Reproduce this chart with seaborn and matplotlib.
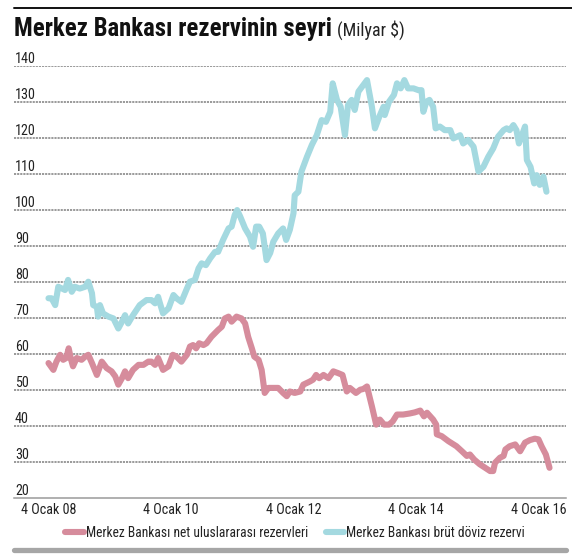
import matplotlib
matplotlib.use('Agg')
import matplotlib.pyplot as plt
import seaborn as sns
import pandas as pd
from matplotlib import font_manager as fm
from matplotlib.lines import Line2D
import matplotlib.transforms as mtrans

# ---------------- data ----------------
brut_years = [2008.00, 2008.05, 2008.11, 2008.16, 2008.22, 2008.27, 2008.32, 2008.38, 2008.43, 2008.51,
              2008.60, 2008.65, 2008.71, 2008.73, 2008.79, 2008.81, 2008.84, 2008.89, 2008.98, 2009.06,
              2009.14, 2009.20, 2009.25, 2009.30, 2009.38, 2009.49, 2009.60, 2009.68, 2009.74, 2009.79,
              2009.82, 2009.87, 2009.96, 2010.04, 2010.09, 2010.17, 2010.26, 2010.31, 2010.39, 2010.45,
              2010.50, 2010.57, 2010.64, 2010.72, 2010.77, 2010.85, 2010.94, 2010.99, 2011.04, 2011.08,
              2011.13, 2011.21, 2011.29, 2011.34, 2011.39, 2011.44, 2011.50, 2011.56, 2011.62, 2011.67,
              2011.75, 2011.83, 2011.88, 2011.94, 2012.00, 2012.02, 2012.08, 2012.13, 2012.22, 2012.30,
              2012.38, 2012.46, 2012.53, 2012.60, 2012.64, 2012.71, 2012.77, 2012.84, 2012.89, 2012.95,
              2013.00, 2013.06, 2013.14, 2013.20, 2013.28, 2013.33, 2013.40, 2013.47, 2013.49, 2013.56,
              2013.64, 2013.69, 2013.75, 2013.81, 2013.87, 2013.96, 2014.04, 2014.09, 2014.12, 2014.17,
              2014.22, 2014.28, 2014.32, 2014.39, 2014.47, 2014.56, 2014.61, 2014.72, 2014.77, 2014.85,
              2014.94, 2015.02, 2015.10, 2015.18, 2015.26, 2015.34, 2015.43, 2015.48, 2015.53, 2015.59,
              2015.64, 2015.68, 2015.73, 2015.78, 2015.81, 2015.87, 2015.93, 2015.97, 2016.02, 2016.08,
              2016.13]
brut_values = [75.4, 75.4, 73.5, 78.6, 78.1, 77.7, 80.5, 77.2, 78.6, 78.1,
               78.6, 80.0, 76.8, 73.5, 73.0, 70.3, 73.5, 71.2, 70.3, 69.8,
               67.0, 68.9, 70.7, 68.4, 70.7, 73.5, 74.9, 74.9, 74.0, 75.8,
               74.0, 71.2, 72.6, 76.3, 75.4, 74.4, 78.1, 80.0, 80.5, 83.7,
               85.1, 84.6, 86.5, 88.3, 88.3, 91.6, 94.8, 95.3, 98.5, 99.9,
               98.1, 94.8, 92.5, 89.7, 95.3, 95.3, 93.4, 86.0, 88.0, 91.1,
               93.4, 94.8, 91.6, 94.4, 99.0, 104.0, 105.0, 110.6, 114.7, 118.0,
               120.7, 124.9, 124.4, 127.2, 135.1, 130.5, 128.6, 120.7, 129.1, 130.5,
               127.7, 132.8, 134.6, 136.0, 128.6, 122.6, 125.8, 128.6, 126.3, 130.0,
               131.9, 135.1, 133.7, 136.0, 133.7, 133.7, 133.2, 133.2, 127.2, 130.0,
               130.5, 128.6, 122.6, 123.1, 122.1, 122.1, 119.8, 120.7, 118.4, 119.4,
               117.5, 110.6, 111.9, 114.7, 117.0, 120.3, 122.1, 122.6, 122.1, 123.5,
               122.1, 118.4, 120.7, 123.1, 113.8, 111.9, 107.3, 109.6, 106.9, 109.2,
               105.0]

net_years = [2008.00, 2008.08, 2008.13, 2008.19, 2008.24, 2008.29, 2008.33, 2008.37, 2008.40, 2008.46,
             2008.54, 2008.60, 2008.65, 2008.71, 2008.79, 2008.87, 2008.95, 2009.03, 2009.09, 2009.14,
             2009.20, 2009.25, 2009.30, 2009.38, 2009.47, 2009.55, 2009.63, 2009.68, 2009.74, 2009.79,
             2009.87, 2009.96, 2010.03, 2010.09, 2010.17, 2010.26, 2010.31, 2010.36, 2010.41, 2010.46,
             2010.53, 2010.58, 2010.66, 2010.77, 2010.83, 2010.88, 2010.94, 2010.99, 2011.07, 2011.15,
             2011.21, 2011.26, 2011.32, 2011.36, 2011.43, 2011.48, 2011.53, 2011.59, 2011.67, 2011.75,
             2011.83, 2011.89, 2011.94, 2012.02, 2012.11, 2012.16, 2012.27, 2012.32, 2012.37, 2012.42,
             2012.49, 2012.57, 2012.65, 2012.73, 2012.80, 2012.87, 2012.92, 2013.02, 2013.09, 2013.14,
             2013.20, 2013.28, 2013.35, 2013.41, 2013.48, 2013.56, 2013.62, 2013.69, 2013.79, 2013.90,
             2013.98, 2014.07, 2014.13, 2014.18, 2014.28, 2014.33, 2014.34, 2014.42, 2014.53, 2014.66,
             2014.75, 2014.83, 2014.88, 2014.95, 2015.04, 2015.13, 2015.21, 2015.26, 2015.29, 2015.37,
             2015.43, 2015.46, 2015.53, 2015.62, 2015.70, 2015.78, 2015.86, 2015.94, 2016.00, 2016.05,
             2016.12, 2016.18]
net_values = [57.4, 55.5, 57.8, 59.7, 58.3, 58.8, 61.5, 58.3, 56.5, 58.8,
              58.3, 59.2, 59.7, 57.4, 54.1, 57.8, 56.0, 55.1, 53.7, 51.4,
              53.2, 55.1, 53.2, 55.5, 56.9, 56.9, 57.8, 57.8, 56.9, 58.8,
              55.5, 56.5, 59.7, 59.2, 57.8, 59.7, 62.0, 62.4, 61.5, 62.9,
              62.4, 62.9, 64.7, 66.6, 67.5, 69.8, 70.3, 68.9, 70.3, 69.8,
              68.4, 64.7, 61.5, 59.2, 58.3, 55.5, 49.1, 50.5, 50.5, 50.5,
              49.1, 48.2, 49.5, 49.1, 49.5, 51.4, 52.3, 52.8, 54.1, 53.2,
              54.1, 53.2, 55.1, 54.6, 54.1, 49.5, 50.5, 49.1, 50.0, 50.2,
              50.9, 45.4, 40.3, 41.7, 40.3, 40.3, 41.2, 43.1, 43.1, 43.4,
              43.7, 44.2, 42.6, 43.6, 41.7, 40.3, 37.6, 37.1, 35.7, 34.3,
              32.9, 31.6, 32.0, 30.6, 29.3, 28.3, 27.4, 27.4, 29.7, 31.1,
              31.6, 33.4, 34.3, 34.8, 32.9, 35.3, 36.0, 36.4, 36.2, 34.3,
              32.0, 28.3]

series_names = ["Merkez Bankası net uluslararası rezervleri",
                "Merkez Bankası brüt döviz rezervi"]
series_colors = ["#d68c9c", "#a4d9e0"]
x_tick_years = [2008, 2010, 2012, 2014, 2016]
x_tick_labels = ["4 Ocak 08", "4 Ocak 10", "4 Ocak 12", "4 Ocak 14", "4 Ocak 16"]
y_ticks = [20, 30, 40, 50, 60, 70, 80, 90, 100, 110, 120, 130, 140]
title_main = "Merkez Bankası rezervinin seyri"
title_unit = "(Milyar $)"

# ---------------- fonts ----------------
def pick(names):
    for n in names:
        try:
            fm.findfont(fm.FontProperties(family=n), fallback_to_default=False)
            return n
        except Exception:
            pass
    return 'DejaVu Sans'

sns.set_theme(style='white')
FONT = pick(['Liberation Sans Narrow', 'Roboto Condensed', 'Open Sans Condensed', 'Liberation Sans'])
plt.rcParams['font.family'] = [FONT, 'DejaVu Sans']

W, H = 572, 557
fig = plt.figure(figsize=(W / 100, H / 100), dpi=100)
fig.patch.set_facecolor('white')
ax = fig.add_axes([14 / W, (H - 497.7) / H, 552 / W, 432 / H])
ax.set_facecolor('white')

df = pd.concat([
    pd.DataFrame({'year': net_years, 'value': net_values, 'series': series_names[0]}),
    pd.DataFrame({'year': brut_years, 'value': brut_values, 'series': series_names[1]}),
], ignore_index=True)

sns.lineplot(data=df, x='year', y='value', hue='series', palette=series_colors,
             hue_order=series_names, sort=False, estimator=None, lw=4.4, ax=ax, legend=False)
for ln in ax.lines:
    ln.set_solid_capstyle('round')
    ln.set_solid_joinstyle('round')
    ln.set_zorder(3)

ax.set_xlim(2007.437, 2016.449)
ax.set_ylim(20, 140)
ax.set_xlabel('')
ax.set_ylabel('')
ax.set_yticks(y_ticks)
ax.set_xticks(x_tick_years)
ax.set_xticklabels(x_tick_labels, fontsize=10.2, color='#222222')
ax.tick_params(axis='x', length=0, pad=4)
ax.tick_params(axis='y', length=0, labelleft=False)
for s in ['top', 'left', 'right']:
    ax.spines[s].set_visible(False)
ax.spines['bottom'].set_color('#9a9a9a')
ax.spines['bottom'].set_linewidth(1.1)
ax.grid(False)
for v in y_ticks[1:]:
    ax.axhline(v, color='#9a9a9a', lw=1.4, ls=(0, (1.1, 0.5)), zorder=1)

ytrans = mtrans.offset_copy(ax.get_yaxis_transform(), fig=fig, x=1, y=3, units='dots')
for v in y_ticks:
    ax.text(0, v, str(v), transform=ytrans, ha='left', va='baseline',
            fontsize=10.2, color='#222222')

# ---------------- title ----------------
renderer = fig.canvas.get_renderer()
t1 = fig.text(14 / W, 1 - 36 / H, title_main, fontsize=16, fontweight='bold',
              color='#111111', va='baseline', ha='left')
w = t1.get_window_extent(renderer).width
t1.set_fontsize(16 * 318 / w)
t2 = fig.text(337 / W, 1 - 36 / H, title_unit, fontsize=11, color='#222222',
              va='baseline', ha='left')
w2 = t2.get_window_extent(renderer).width
t2.set_fontsize(11 * 68 / w2)

# ---------------- decorations ----------------
fig.add_artist(Line2D([14 / W, 1], [1 - 8.3 / H] * 2, color='#111111', lw=1.4))
fig.add_artist(Line2D([14 / W, 566 / W], [1 - 549.5 / H] * 2, color='#a6a6a6', lw=3.8))

# ---------------- legend ----------------
probe = fig.text(0, 0, series_names[0], fontsize=10)
wl = probe.get_window_extent(renderer).width
probe.remove()
leg_fs = 10 * 221 / wl
handles = [Line2D([0], [0], color=c, lw=4.4, solid_capstyle='round') for c in series_colors]
leg = fig.legend(handles, series_names, loc='center', bbox_to_anchor=(295 / W, 1 - 532.7 / H),
                 ncol=2, frameon=False, fontsize=leg_fs, handlelength=1.4, handletextpad=0.15,
                 columnspacing=1.3, borderpad=0, borderaxespad=0)
for t in leg.get_texts():
    t.set_color('#222222')

fig.savefig('out.png', dpi=100, facecolor='white')
